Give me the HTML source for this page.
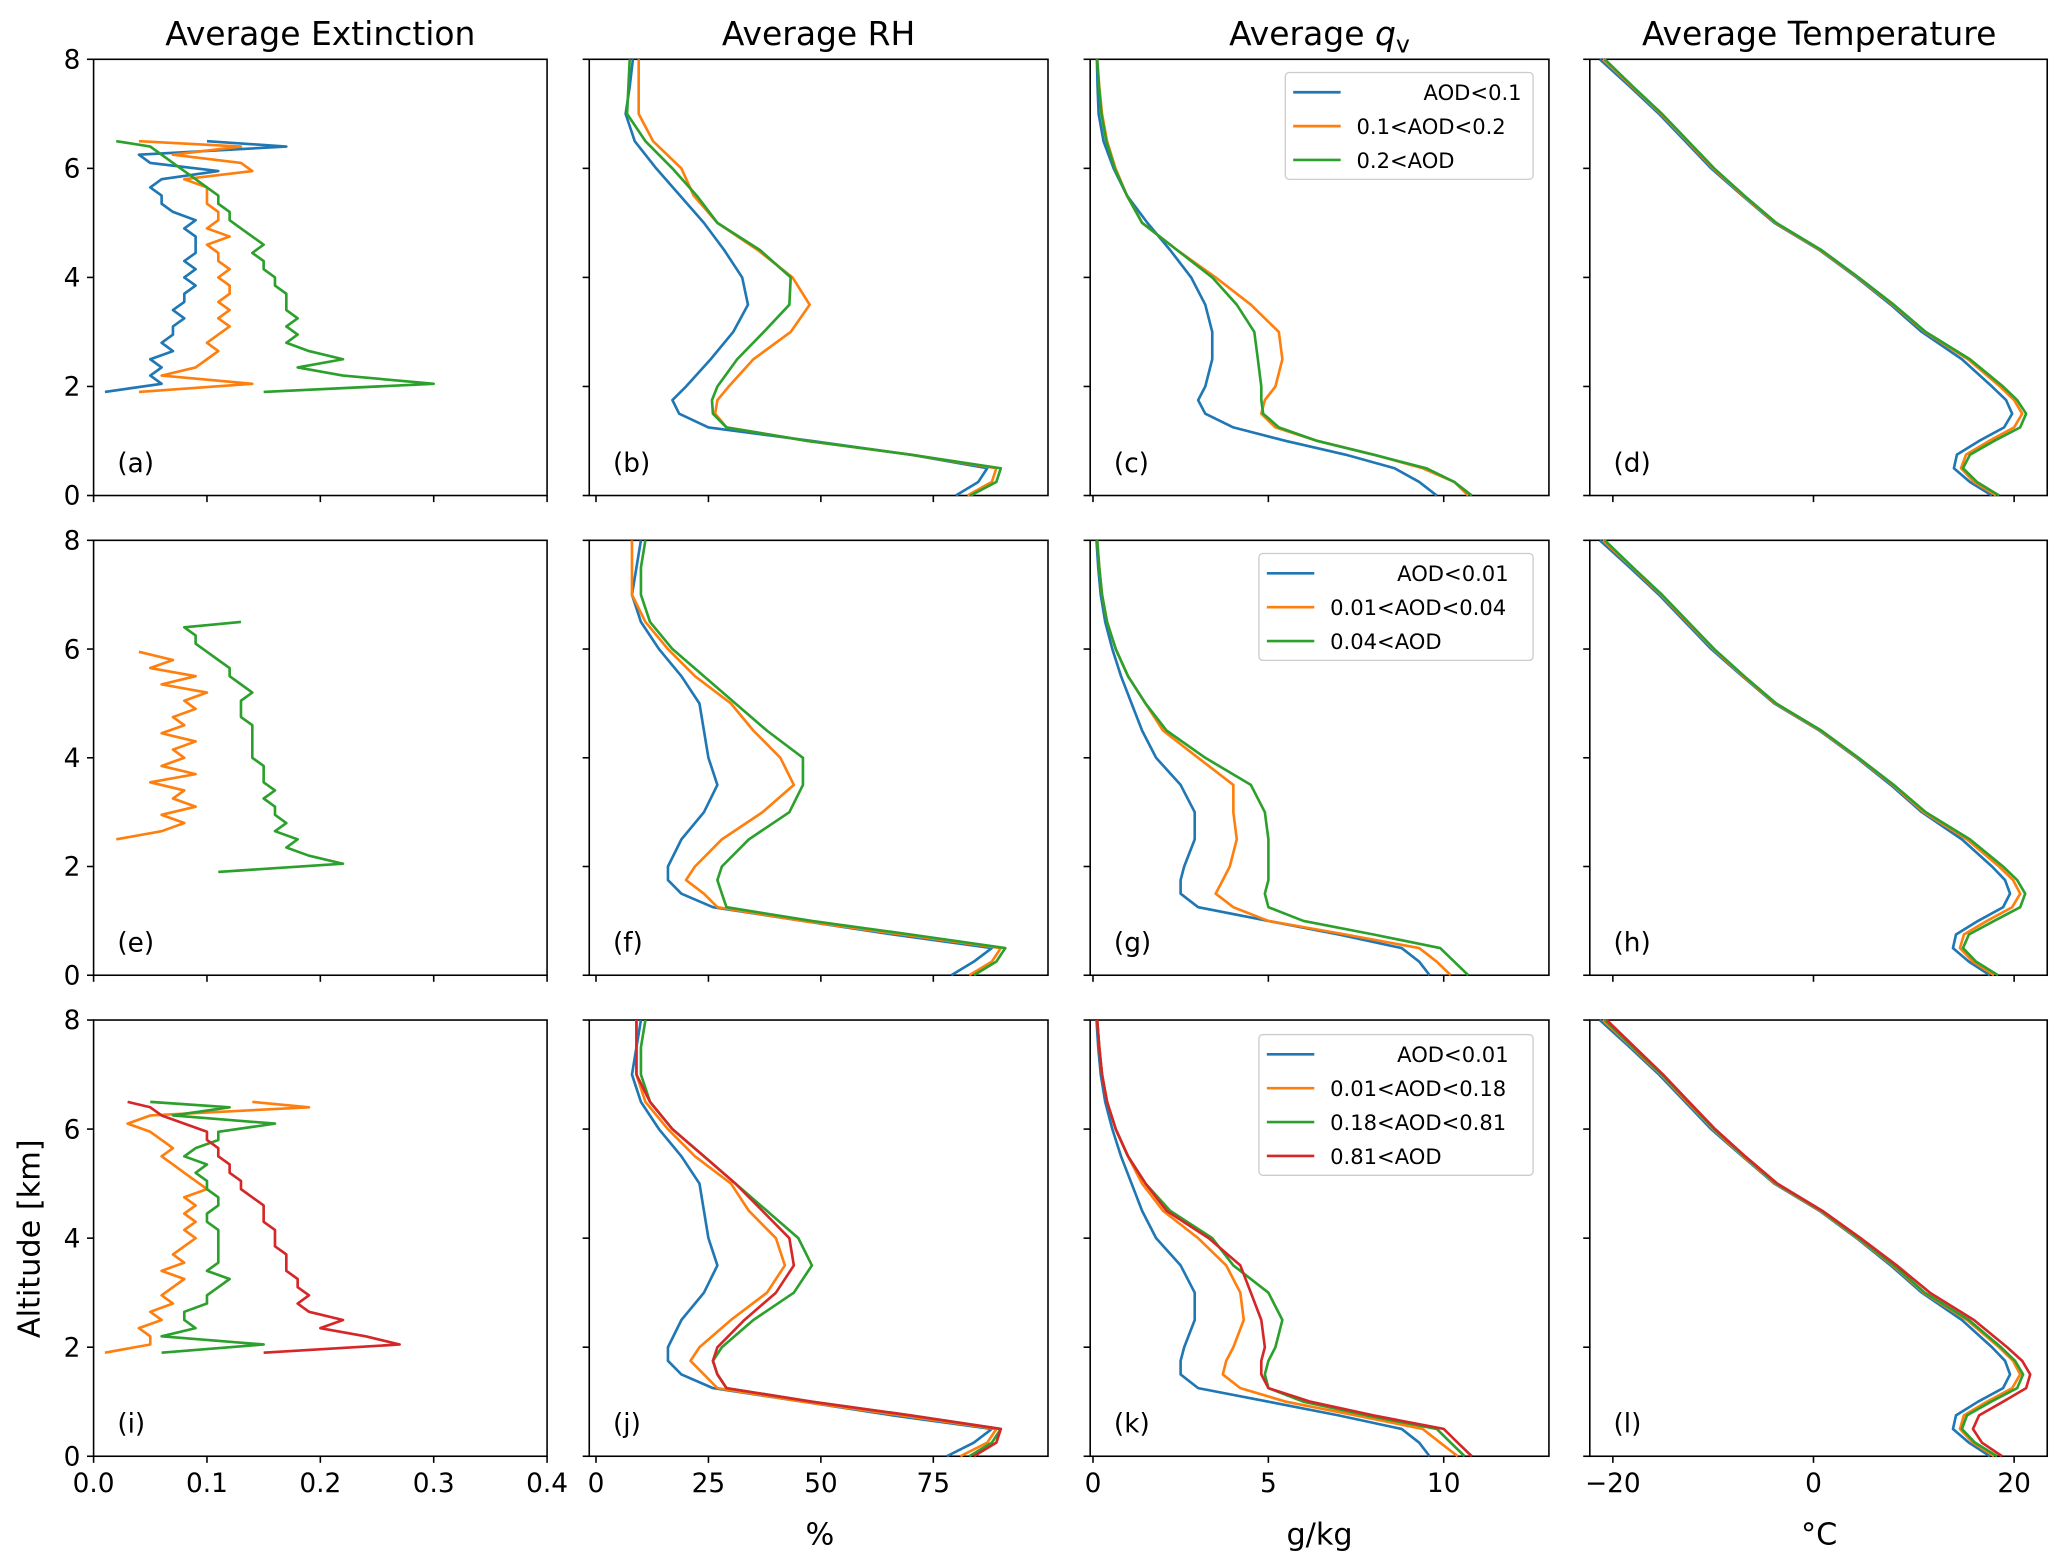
<!DOCTYPE html>
<html><head><meta charset="utf-8"><style>
html,body{margin:0;padding:0;background:#fff}
svg{display:block}
text{font-family:"DejaVu Sans","Liberation Sans",sans-serif;fill:#000}
</style></head><body>
<svg id="fig" width="2067" height="1563" viewBox="0 0 1568 1186" preserveAspectRatio="none" xmlns="http://www.w3.org/2000/svg"></svg>
<script>
// ---------- data ----------
const altP = [0,0.25,0.5,0.75,1,1.25,1.5,1.75,2,2.5,3,3.5,4,4.5,5,5.5,6,6.5,7,7.5,8];
const altE = [1.9,2.05,2.2,2.35,2.5,2.65,2.8,2.95,3.1,3.25,3.4,3.55,3.7,3.85,4.0,4.15,4.3,4.45,4.6,4.75,4.9,5.05,5.2,5.35,5.5,5.65,5.8,5.95,6.1,6.25,6.4,6.5];
const extA_blue = [0.01,0.06,0.05,0.06,0.05,0.07,0.06,0.07,0.07,0.08,0.07,0.08,0.08,0.09,0.08,0.09,0.08,0.09,0.09,0.09,0.08,0.09,0.07,0.06,0.06,0.05,0.06,0.11,0.05,0.04,0.17,0.10];
const extA_orange = [0.04,0.14,0.06,0.09,0.10,0.11,0.10,0.11,0.12,0.11,0.12,0.11,0.12,0.12,0.11,0.12,0.11,0.11,0.10,0.12,0.10,0.11,0.11,0.10,0.10,0.10,0.08,0.14,0.13,0.07,0.13,0.04];
const extA_green = [0.15,0.30,0.22,0.18,0.22,0.19,0.17,0.18,0.17,0.18,0.17,0.17,0.17,0.16,0.16,0.15,0.15,0.14,0.15,0.14,0.13,0.12,0.12,0.11,0.11,0.10,0.09,0.08,0.07,0.06,0.05,0.02];
const extE_orange = [null,null,null,null,0.02,0.06,0.08,0.06,0.09,0.07,0.08,0.05,0.09,0.06,0.08,0.07,0.09,0.06,0.08,0.07,0.09,0.08,0.10,0.06,0.09,0.05,0.07,0.04,null,null,null,null];
const extE_green = [0.11,0.22,0.19,0.17,0.18,0.16,0.17,0.16,0.16,0.15,0.16,0.15,0.15,0.15,0.14,0.14,0.14,0.14,0.14,0.13,0.13,0.13,0.14,0.13,0.12,0.12,0.11,0.10,0.09,0.09,0.08,0.13];
const extI_orange = [0.01,0.05,0.05,0.04,0.06,0.05,0.07,0.06,0.07,0.08,0.06,0.08,0.07,0.08,0.09,0.08,0.09,0.08,0.09,0.08,0.10,0.09,0.08,0.07,0.06,0.07,0.06,0.05,0.03,0.05,0.19,0.14];
const extI_green = [0.06,0.15,0.06,0.09,0.08,0.08,0.10,0.10,0.11,0.12,0.10,0.11,0.11,0.11,0.11,0.11,0.10,0.10,0.11,0.11,0.10,0.10,0.09,0.10,0.08,0.09,0.11,0.11,0.16,0.07,0.12,0.05];
const extI_red = [0.15,0.27,0.24,0.20,0.22,0.19,0.18,0.19,0.18,0.18,0.17,0.17,0.17,0.16,0.16,0.16,0.15,0.15,0.15,0.14,0.13,0.13,0.12,0.12,0.11,0.11,0.10,0.10,0.08,0.06,0.05,0.03];

const rhB_blue = [80,85,87,70,48,25,18.5,17,20,25.5,30.5,33.8,32.5,28.5,24,18.7,13.4,8.6,6.6,7.5,8.2];
const rhB_orange = [82.6,88,89,70,47,29,26.5,27,29.5,35,43.3,47.5,43.7,36,27,21.7,19,12.7,9.5,9.5,9.5];
const rhB_green = [83.3,89,90,70,47,29,26,25.8,27,31.4,37.3,43,43.3,36.5,27,22.4,17,11,6.9,7.2,7.5];
const rhF_blue = [79,84,88,66,46,26,19,16,16,19,24,27,25,24,23,19,14,10,8,9,10];
const rhF_orange = [83,88,90,68,46,27,24,20,22,28,37,44,41,35,30,22,16,11,8,8,8];
const rhF_green = [84,89,91,70,48,29,28,27,28,34,43,46,46,38,31,24,17,12,10,10,11];
const rhJ_blue = [78,84,88,66,46,26,19,16,16,19,24,27,25,24,23,19,14,10,8,9,10];
const rhJ_orange = [81,87,89,68,46,27,24,21,23,30,38,42,40,34,30,22,16,11,9,9,9];
const rhJ_green = [83,88,90,70,48,29,27,26,28,35,44,48,45,38,31,24,17,12,10,10,11];
const rhJ_red = [84,89,90,70,48,29,27,26,27,33,40,44,43,37,31,24,17,12,9,9,9];

const qvC_blue = [9.8,9.3,8.6,7.2,5.5,4.0,3.2,3.0,3.2,3.4,3.4,3.2,2.8,2.2,1.55,0.97,0.59,0.3,0.16,0.13,0.11];
const qvC_orange = [10.7,10.3,9.4,8.0,6.4,5.2,4.8,4.9,5.2,5.4,5.3,4.5,3.5,2.4,1.4,0.97,0.64,0.4,0.26,0.18,0.12];
const qvC_green = [10.8,10.3,9.5,8.0,6.4,5.3,4.85,4.8,4.8,4.7,4.6,4.1,3.4,2.4,1.4,0.97,0.62,0.38,0.24,0.17,0.12];
const qvG_blue = [9.6,9.3,8.8,7.0,5.0,3.0,2.5,2.5,2.6,2.9,2.9,2.5,1.8,1.4,1.1,0.8,0.55,0.35,0.22,0.15,0.1];
const qvG_orange = [10.2,9.8,9.3,7.2,5.0,4.0,3.5,3.7,3.9,4.1,4.0,4.0,3.0,2.0,1.5,1.0,0.65,0.4,0.26,0.18,0.12];
const qvG_green = [10.7,10.3,9.9,8.0,6.0,5.0,4.9,5.0,5.0,5.0,4.9,4.5,3.2,2.1,1.5,1.0,0.65,0.4,0.26,0.18,0.12];
const qvK_blue = [9.6,9.3,8.8,7.0,5.0,3.0,2.5,2.5,2.6,2.9,2.9,2.5,1.8,1.4,1.1,0.8,0.55,0.35,0.22,0.15,0.1];
const qvK_orange = [10.4,9.9,9.4,7.5,5.5,4.2,3.7,3.8,4.0,4.3,4.2,3.8,3.0,2.0,1.4,1.0,0.65,0.4,0.26,0.18,0.12];
const qvK_green = [10.6,10.2,9.8,7.8,6.0,5.0,4.9,5.0,5.2,5.4,5.0,4.0,3.4,2.2,1.5,1.0,0.65,0.4,0.26,0.18,0.12];
const qvK_red = [10.8,10.4,10.0,8.0,6.2,5.0,4.8,4.8,4.9,4.8,4.5,4.2,3.3,2.1,1.5,1.0,0.65,0.4,0.26,0.18,0.12];

const tD_blue = [17.8,15.6,14.0,14.3,16.5,19.0,19.8,19.2,17.8,14.8,10.8,7.7,4.3,0.6,-3.9,-7.1,-10.2,-12.8,-15.4,-18.3,-21.3];
const tD_orange = [18.2,16.0,14.7,15.2,17.5,20.0,20.8,20.0,18.6,15.4,11.1,7.9,4.4,0.7,-3.8,-7.0,-10.0,-12.6,-15.2,-18.1,-21.0];
const tD_green = [18.5,16.3,14.9,15.6,18.0,20.6,21.2,20.3,18.9,15.6,11.2,8.0,4.5,0.8,-3.7,-6.9,-9.9,-12.5,-15.1,-18.0,-20.8];
const tH_blue = [17.6,15.5,13.9,14.2,16.4,18.9,19.6,19.1,17.8,14.8,10.8,7.7,4.3,0.6,-3.9,-7.1,-10.2,-12.8,-15.4,-18.3,-21.3];
const tH_orange = [18.0,15.9,14.6,15.0,17.3,19.8,20.6,19.9,18.5,15.3,11.0,7.9,4.4,0.7,-3.8,-7.0,-10.0,-12.6,-15.2,-18.1,-21.0];
const tH_green = [18.4,16.2,14.9,15.5,18.0,20.6,21.1,20.3,18.9,15.6,11.2,8.0,4.5,0.8,-3.7,-6.9,-9.9,-12.5,-15.1,-18.0,-20.8];
const tL_blue = [17.6,15.5,13.9,14.2,16.4,18.9,19.6,19.1,17.8,14.8,10.8,7.7,4.3,0.6,-3.9,-7.1,-10.2,-12.8,-15.4,-18.3,-21.3];
const tL_orange = [18.0,15.9,14.6,15.0,17.3,19.8,20.6,19.9,18.5,15.3,11.0,7.9,4.4,0.7,-3.8,-7.0,-10.0,-12.6,-15.2,-18.1,-21.0];
const tL_green = [18.3,16.1,14.8,15.3,17.7,20.3,20.9,20.1,18.7,15.5,11.1,8.0,4.5,0.8,-3.7,-6.9,-9.9,-12.5,-15.1,-18.0,-20.8];
const tL_red = [18.8,16.8,15.9,16.5,18.9,21.2,21.6,20.8,19.3,16.0,11.6,8.3,4.7,0.9,-3.6,-6.8,-9.8,-12.4,-15.0,-17.8,-20.6];

const yTicks = [0,2,4,6,8];
const xTicksE = [0,0.1,0.2,0.3,0.4];
const xTickLabelsE = ["0.0","0.1","0.2","0.3","0.4"];
const xTicksRH = [0,25,50,75];
const xTicksQ = [0,5,10];
const xTicksT = [-20,0,20];
const legend1 = ["AOD<0.1","0.1<AOD<0.2","0.2<AOD"];
const legend2 = ["AOD<0.01","0.01<AOD<0.04","0.04<AOD"];
const legend3 = ["AOD<0.01","0.01<AOD<0.18","0.18<AOD<0.81","0.81<AOD"];

// ---------- layout ----------
const NS = "http://www.w3.org/2000/svg";
const svg = document.getElementById('fig');
const C = {blue:"#1f77b4",orange:"#ff7f0e",green:"#2ca02c",red:"#d62728"};
const cols = [{x0:71,x1:415,d:[0,0.4]},{x0:447,x1:795,d:[-1.5,100.5]},{x0:827,x1:1175,d:[-0.08,13]},{x0:1206,x1:1553,d:[-22.3,23.3]}];
const rows = [{y0:45,y1:376},{y0:410,y1:740},{y0:774,y1:1105}];
function mk(tag, attrs, parent){const e=document.createElementNS(NS,tag);for(const k in attrs)e.setAttribute(k,attrs[k]);(parent||svg).appendChild(e);return e;}
function sx(c,v){return c.x0+(v-c.d[0])/(c.d[1]-c.d[0])*(c.x1-c.x0);}
function sy(r,v){return r.y1-(v/8)*(r.y1-r.y0);}

function drawLine(ci,ri,alts,vals,color,name){
  const c=cols[ci],r=rows[ri];let d="",pen=false;
  for(let i=0;i<alts.length;i++){
    if(vals[i]===null){pen=false;continue;}
    d+=(pen?"L":"M")+sx(c,vals[i]).toFixed(1)+","+sy(r,alts[i]).toFixed(1);pen=true;
  }
  const p=mk('path',{d:d,fill:"none",stroke:color,"stroke-width":2,"stroke-linejoin":"round"});
  
  
}

function drawAxes(ci,ri,xt,label){
  const c=cols[ci],r=rows[ri];
  const g=mk('g',{});
  
  
  mk('rect',{x:c.x0,y:r.y0,width:c.x1-c.x0,height:r.y1-r.y0,fill:"none",stroke:"#000","stroke-width":1.2},g);
  yTicks.forEach(v=>{
    const y=sy(r,v);
    mk('line',{x1:c.x0-5,x2:c.x0,y1:y,y2:y,stroke:"#000","stroke-width":1.2},g);
    if(ci===0){const t=mk('text',{x:c.x0-10,y:y+7,"font-size":20,"text-anchor":"end"},g);t.textContent=v;
      
      }
  });
  xt.forEach((v,i)=>{
    const x=sx(c,v);
    mk('line',{x1:x,x2:x,y1:r.y1,y2:r.y1+5,stroke:"#000","stroke-width":1.2},g);
    if(ri===2){const t=mk('text',{x:x,y:r.y1+27,"font-size":20,"text-anchor":"middle"},g);
      t.textContent=(ci===0?xTickLabelsE[i]:(v<0?"\u2212"+(-v):String(v)));
      
      }
  });
  const t=mk('text',{x:c.x0+18,y:r.y1-18,"font-size":20},g);t.textContent="("+label+")";
  
  
}

function drawLegend(x0,y0,w,labels,colors,name){
  const g=mk('g',{});
  
  
  mk('rect',{x:x0,y:y0,width:w,height:labels.length*25.7+4,fill:"#fff",stroke:"#ccc","stroke-width":1,rx:3},g);
  labels.forEach((l,i)=>{
    const y=y0+15+i*25.7;
    const ln=mk('line',{x1:x0+6,x2:x0+42,y1:y,y2:y,stroke:colors[i],"stroke-width":2},g);
    
    
    const t=mk('text',{x:x0+54,y:y+6,"font-size":16},g);
    t.textContent=(i===0?"\u2007\u2007\u2007\u2007\u2007":"")+l;
    
    
  });
}

const xts=[xTicksE,xTicksRH,xTicksQ,xTicksT];
const labs=[["a","b","c","d"],["e","f","g","h"],["i","j","k","l"]];
for(let ri=0;ri<3;ri++)for(let ci=0;ci<4;ci++)drawAxes(ci,ri,xts[ci],labs[ri][ci]);

// row 1
drawLine(0,0,altE,extA_blue,C.blue,"ext-a-blue");
drawLine(0,0,altE,extA_orange,C.orange,"ext-a-orange");
drawLine(0,0,altE,extA_green,C.green,"ext-a-green");
drawLine(1,0,altP,rhB_blue,C.blue,"rh-b-blue");
drawLine(1,0,altP,rhB_orange,C.orange,"rh-b-orange");
drawLine(1,0,altP,rhB_green,C.green,"rh-b-green");
drawLine(2,0,altP,qvC_blue,C.blue,"qv-c-blue");
drawLine(2,0,altP,qvC_orange,C.orange,"qv-c-orange");
drawLine(2,0,altP,qvC_green,C.green,"qv-c-green");
drawLine(3,0,altP,tD_blue,C.blue,"t-d-blue");
drawLine(3,0,altP,tD_orange,C.orange,"t-d-orange");
drawLine(3,0,altP,tD_green,C.green,"t-d-green");
// row 2
drawLine(0,1,altE,extE_orange,C.orange,"ext-e-orange");
drawLine(0,1,altE,extE_green,C.green,"ext-e-green");
drawLine(1,1,altP,rhF_blue,C.blue,"rh-f-blue");
drawLine(1,1,altP,rhF_orange,C.orange,"rh-f-orange");
drawLine(1,1,altP,rhF_green,C.green,"rh-f-green");
drawLine(2,1,altP,qvG_blue,C.blue,"qv-g-blue");
drawLine(2,1,altP,qvG_orange,C.orange,"qv-g-orange");
drawLine(2,1,altP,qvG_green,C.green,"qv-g-green");
drawLine(3,1,altP,tH_blue,C.blue,"t-h-blue");
drawLine(3,1,altP,tH_orange,C.orange,"t-h-orange");
drawLine(3,1,altP,tH_green,C.green,"t-h-green");
// row 3
drawLine(0,2,altE,extI_orange,C.orange,"ext-i-orange");
drawLine(0,2,altE,extI_green,C.green,"ext-i-green");
drawLine(0,2,altE,extI_red,C.red,"ext-i-red");
drawLine(1,2,altP,rhJ_blue,C.blue,"rh-j-blue");
drawLine(1,2,altP,rhJ_orange,C.orange,"rh-j-orange");
drawLine(1,2,altP,rhJ_green,C.green,"rh-j-green");
drawLine(1,2,altP,rhJ_red,C.red,"rh-j-red");
drawLine(2,2,altP,qvK_blue,C.blue,"qv-k-blue");
drawLine(2,2,altP,qvK_orange,C.orange,"qv-k-orange");
drawLine(2,2,altP,qvK_green,C.green,"qv-k-green");
drawLine(2,2,altP,qvK_red,C.red,"qv-k-red");
drawLine(3,2,altP,tL_blue,C.blue,"t-l-blue");
drawLine(3,2,altP,tL_orange,C.orange,"t-l-orange");
drawLine(3,2,altP,tL_green,C.green,"t-l-green");
drawLine(3,2,altP,tL_red,C.red,"t-l-red");

drawLegend(975,55,188,legend1,[C.blue,C.orange,C.green],"legend-row1");
drawLegend(955,420,208,legend2,[C.blue,C.orange,C.green],"legend-row2");
drawLegend(955,785,208,legend3,[C.blue,C.orange,C.green,C.red],"legend-row3");

// titles & axis labels
function txt(x,y,s,size,name,extra){const t=mk('text',Object.assign({x:x,y:y,"font-size":size,"text-anchor":"middle"},extra||{}));t.innerHTML=s;
  
  return t;}
txt(243,34,"Average Extinction",25,"title-extinction");
txt(621,34,"Average RH",25,"title-rh");
txt(1001,34,"Average <tspan font-style='italic'>q</tspan><tspan font-size='18' dy='6'>v</tspan>",25,"title-qv");
txt(1380,34,"Average Temperature",25,"title-temperature");
txt(622,1172,"%",23,"x-axis-title-rh");
txt(1001,1172,"g/kg",23,"x-axis-title-qv");
txt(1380,1172,"\u00b0C",23,"x-axis-title-temperature");
txt(30,940,"Altitude [km]",23,"y-axis-title",{transform:"rotate(-90 30 940)"});
</script>
</body></html>
